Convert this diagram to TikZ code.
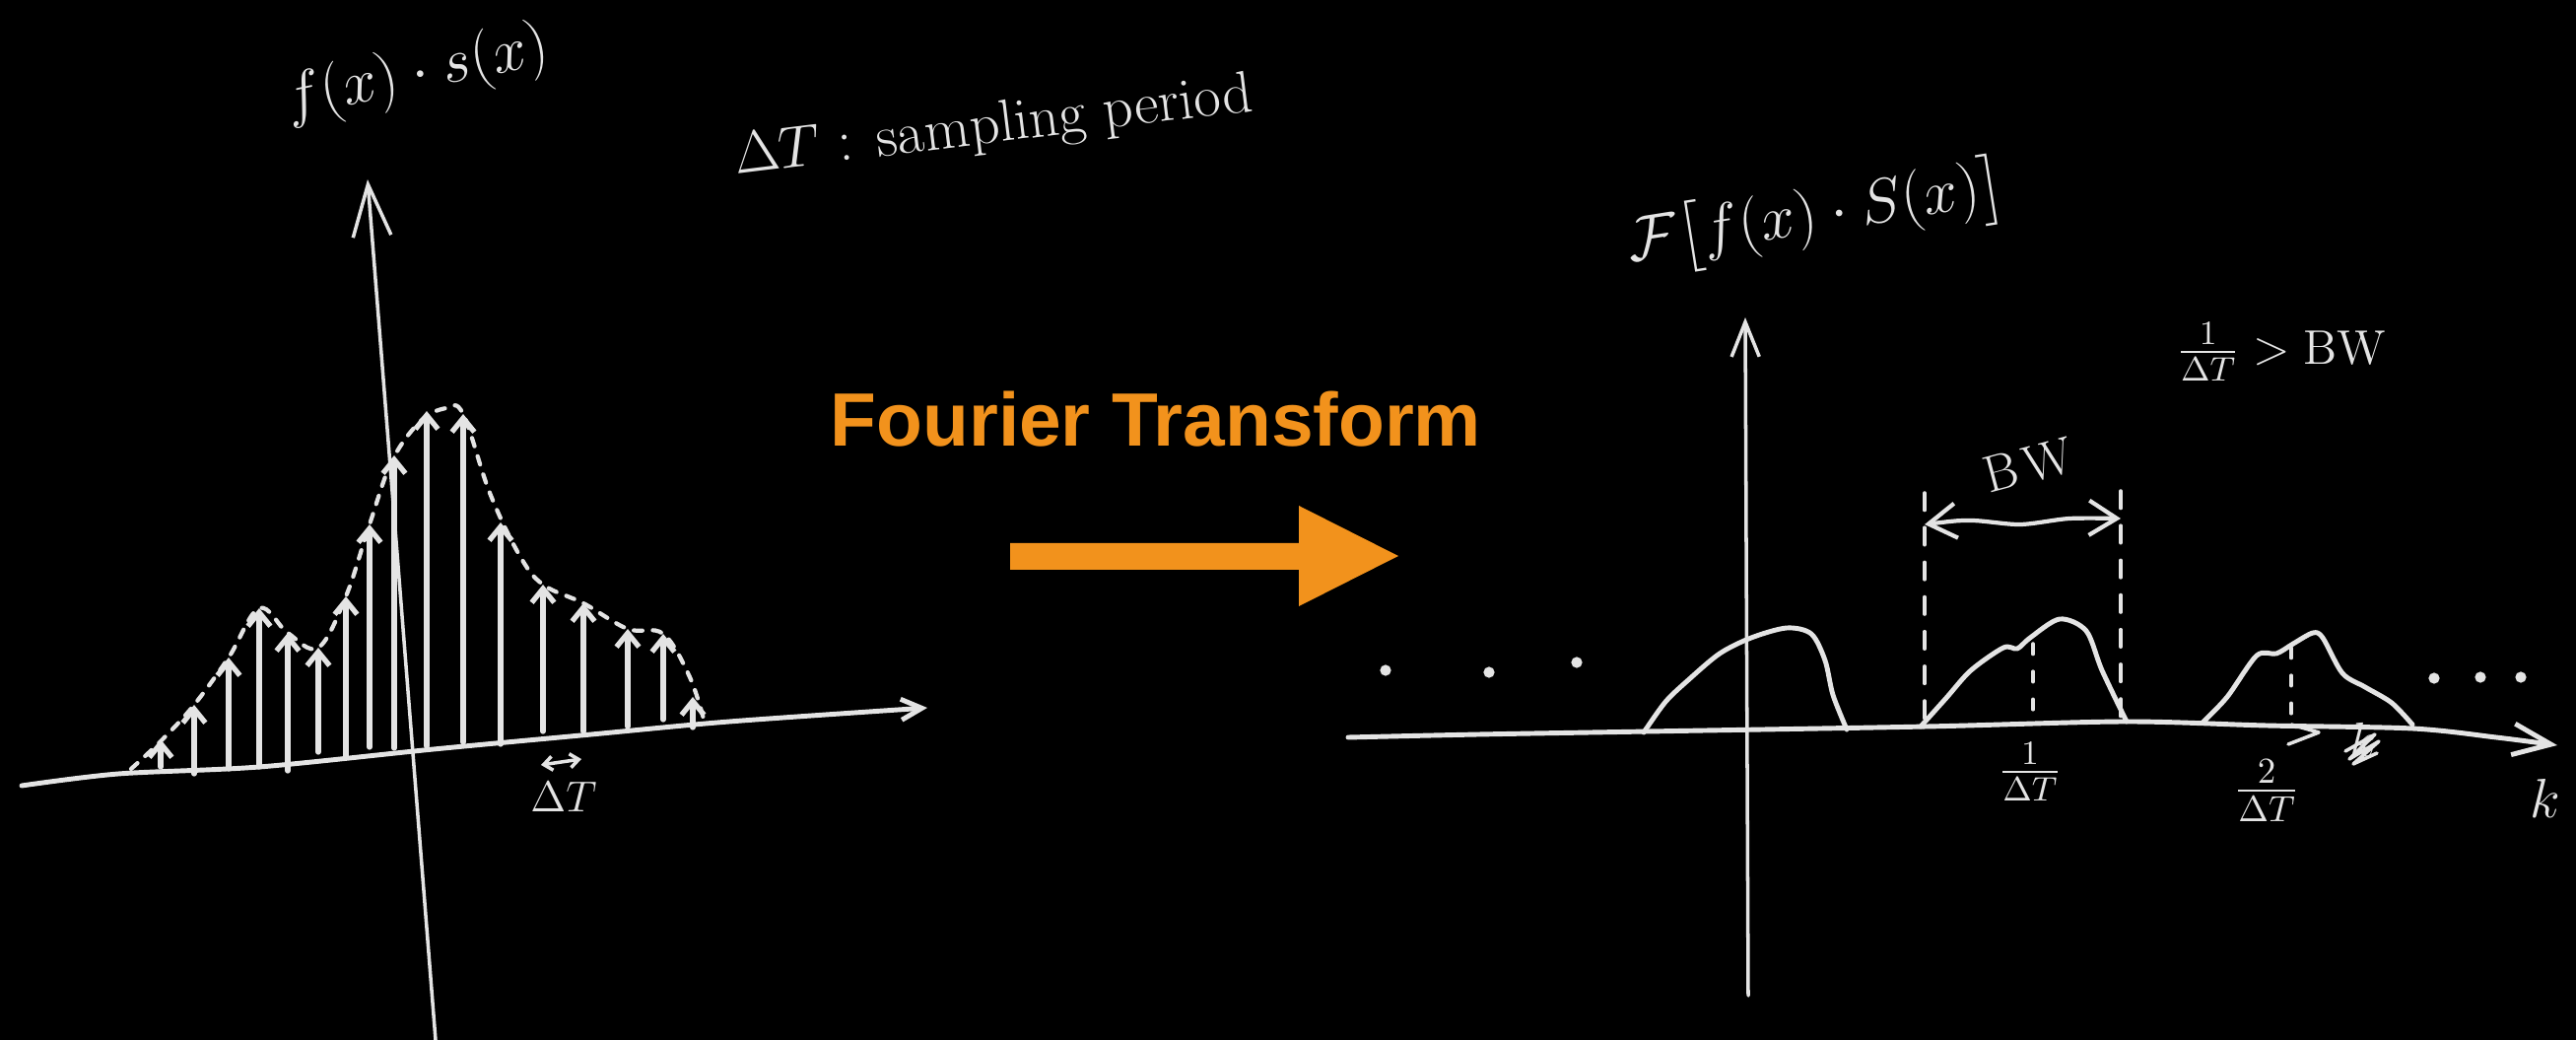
\RequirePackage{fix-cm}
\documentclass[tikz,border=0pt]{standalone}
\usepackage{amsmath}
\usepackage{fontspec}
\newfontfamily\ftfont{Liberation Sans}
\usetikzlibrary{arrows.meta}

\definecolor{chalk}{RGB}{228,228,228}
\definecolor{ftorange}{RGB}{242,146,28}

\tikzset{
  chalk line/.style={draw=chalk, line width=1.4pt, line cap=round, line join=round},
  stem/.style={chalk line, line width=1.5pt, -{Straight Barb[length=4pt,width=6.5pt]}},
  envelope/.style={chalk line, line width=1.2pt, dash pattern=on 2.5pt off 3pt},
  guide/.style={chalk line, line width=1pt, dash pattern=on 5pt off 5pt},
  chalk text/.style={text=chalk, inner sep=0pt},
}

\begin{document}
\begin{tikzpicture}[x=0.01cm, y=-0.01cm]

\fill[black] (0,0) rectangle (2614,1055);
\useasboundingbox (0,0) rectangle (2614,1055);

% Sampled signal: axes
\coordinate (ltip) at (373,182);
\coordinate (lbot) at (442,1055);
\draw[chalk line, line width=1pt, -{Straight Barb[length=15pt,width=11pt]}] (lbot) -- (ltip);
\draw[chalk line, -{Straight Barb[length=6pt,width=6pt]}] plot[smooth] coordinates
  {(22,797) (120,785) (263,778) (440,760) (600,745) (740,732) (941,718)};

% Sampled signal: stems
\foreach \x/\t/\b in {163/750/778, 197/715/785, 232/667/780, 263/617/778,
    292/642/782, 323/657/763, 351/605/767, 375/532/758, 400/462/759,
    433/417/757, 470/420/753, 508/530/755, 551/593/742, 592/612/742,
    637/638/737, 673/643/730, 703/707/738}
  \draw[stem] (\x,\b) -- (\x,\t);

% Sampled signal: envelope
\draw[envelope] plot[smooth, tension=0.6] coordinates
  {(133,780) (165,750) (197,715) (232,667) (263,617) (292,642) (323,657)
   (351,605) (375,532) (398,467) (427,427) (453,414) (470,420) (497,500)
   (527,563) (551,593) (592,612) (637,638) (673,643) (700,687) (715,733)};

% Sampling interval
\draw[chalk line, line width=1pt, {Straight Barb[length=2.5pt,width=4pt]}-{Straight Barb[length=2.5pt,width=4pt]}]
  (549,776) -- (590,770);
\node[chalk text, font=\fontsize{12.5}{14}\selectfont] (dtl) at (572,808) {$\Delta T$};

% Labels
\node[chalk text, rotate=12, font=\fontsize{18}{21}\selectfont] (lname) at (423,76)
  {$f(x)\cdot s(x)$};
\node[chalk text, rotate=7, font=\fontsize{17}{20}\selectfont] (period) at (1008,130)
  {$\Delta T$ : sampling period};

% Fourier Transform
\node[chalk text, text=ftorange, anchor=base west, font=\ftfont\bfseries\fontsize{21.8}{26}\selectfont]
  (ft) at (842,453) {Fourier Transform};
\fill[ftorange] (1025,551) -- (1318,551) -- (1318,513) -- (1419,564)
  -- (1318,615) -- (1318,578) -- (1025,578) -- cycle;

% Spectrum: axes
\coordinate (rtip) at (1771,322);
\coordinate (rbot) at (1774,1010);
\draw[chalk line, line width=1pt, -{Straight Barb[length=10pt,width=8pt]}] (rbot) -- (rtip);
\draw[chalk line, -{Straight Barb[length=11pt,width=9pt]}] plot[smooth] coordinates
  {(1368,748) (1500,745) (1672,742) (1955,737) (2156,732) (2300,736)
   (2448,739) (2533,748) (2595,756)};
\node[chalk text, font=\fontsize{16}{18}\selectfont] (kname) at (2583,810) {$k$};

% Spectrum: copies
\draw[chalk line] plot[smooth] coordinates
  {(1668,743) (1690,712) (1713,690) (1745,663) (1777,647) (1813,637)
   (1838,643) (1852,670) (1860,705) (1874,740)};
\draw[chalk line] plot[smooth] coordinates
  {(1949,737) (1975,708) (2000,680) (2033,657) (2047,658) (2060,647)
   (2090,628) (2117,640) (2133,680) (2158,732)};
\draw[chalk line] plot[smooth] coordinates
  {(2235,733) (2260,707) (2290,665) (2310,663) (2327,653) (2347,642)
   (2357,647) (2377,683) (2400,697) (2427,713) (2448,735)};

% Centres of the copies
\draw[envelope, line width=1pt, dash pattern=on 3pt off 5pt] (2063,653) -- (2063,732);
\draw[envelope, line width=1pt, dash pattern=on 3pt off 5pt] (2325,657) -- (2325,733);
\draw[chalk line, line width=1pt] (2325,735) -- (2353,743) -- (2322,755);
\node[chalk text, font=\fontsize{14}{16}\selectfont] (one) at (2060,783) {$\frac{1}{\Delta T}$};
\node[chalk text, font=\fontsize{15}{17}\selectfont] (two) at (2300,802) {$\frac{2}{\Delta T}$};

% Scribbled k
\node[chalk text, font=\fontsize{14}{16}\selectfont] (kx) at (2398,750) {$k$};
\draw[chalk line, line width=1pt] (2380,762) -- (2410,745) -- (2384,770)
  -- (2414,752) -- (2388,775) -- (2412,764);

% Bandwidth
\draw[guide] (1953,500) -- (1953,733);
\draw[guide] (2152,498) -- (2152,732);
\draw[chalk line, line width=1.2pt, {Straight Barb[length=8pt,width=10pt]}-{Straight Barb[length=8pt,width=10pt]}]
  plot[smooth] coordinates {(1953,532) (2000,528) (2050,532) (2100,526) (2152,526)};
\node[chalk text, rotate=15, font=\fontsize{15}{17}\selectfont] (bw) at (2058,472) {B\kern2pt W};
\node[chalk text, font=\fontsize{14}{16}\selectfont] (cond) at (2315,357)
  {$\frac{1}{\Delta T} > \mathrm{BW}$};

% Spectrum: label
\node[chalk text, rotate=9, font=\fontsize{18}{21}\selectfont] (rname) at (1843,220)
  {$\mathcal{F}\bigl[f(x)\cdot S(x)\bigr]$};

% Repetition dots
\foreach \x/\y in {1406/680, 1511/682, 1600/672, 2470/688, 2517/687, 2558/687}
  \fill[chalk] (\x,\y) circle (1.6pt);

\end{tikzpicture}
\end{document}
